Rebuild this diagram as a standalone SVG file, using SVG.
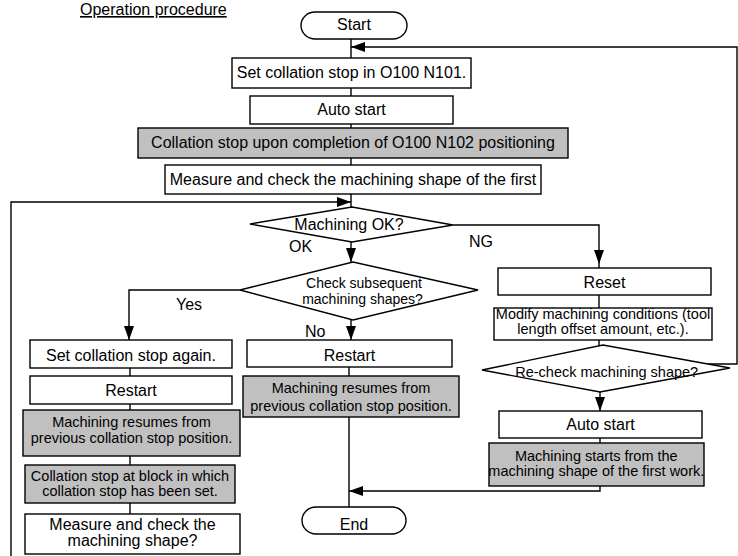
<svg xmlns="http://www.w3.org/2000/svg" width="738" height="556" viewBox="0 0 738 556">
<defs>
<marker id="ah" viewBox="0 0 14 10" refX="14" refY="5" markerWidth="14" markerHeight="10" markerUnits="userSpaceOnUse" orient="auto">
<path d="M0,0 L14,5 L0,10 z" fill="#000"/>
</marker>
</defs>
<style>
text{font-family:"Liberation Sans",Arial,sans-serif;fill:#000}
.t16{font-size:16px}
.t145{font-size:14.5px}
.t14{font-size:14px}
.c{text-anchor:middle}
.box{fill:#fff;stroke:#000;stroke-width:1.4}
.gray{fill:#c0c0c0;stroke:#000;stroke-width:1.4}
.ln{fill:none;stroke:#000;stroke-width:1.4}
.ar{fill:none;stroke:#000;stroke-width:1.4;marker-end:url(#ah)}
</style>
<rect width="738" height="556" fill="#fff"/>
<text id="title" class="t16" x="80" y="15" text-decoration="underline">Operation procedure</text>

<g id="connectors">
<line class="ln" x1="351" y1="39" x2="351" y2="58"/>
<polyline class="ar" points="708,364 737,364 737,47 351,47"/>
<line class="ln" x1="351" y1="88" x2="351" y2="96"/>
<line class="ln" x1="351" y1="124" x2="351" y2="128"/>
<line class="ln" x1="351" y1="158" x2="351" y2="165"/>
<line class="ln" x1="351" y1="194" x2="351" y2="207"/>
<polyline class="ar" points="11,556 11,202 351,202"/>
<line class="ar" x1="351" y1="242" x2="351" y2="262"/>
<polyline class="ar" points="453,225 599,225 599,264"/>
<line class="ln" x1="599" y1="264" x2="599" y2="268"/>
<polyline class="ar" points="240,290 129,290 129,340"/>
<line class="ar" x1="351" y1="320" x2="351" y2="340"/>
<line class="ln" x1="130" y1="368" x2="130" y2="376"/>
<line class="ln" x1="130" y1="404" x2="130" y2="410"/>
<line class="ln" x1="130" y1="456" x2="130" y2="465"/>
<line class="ln" x1="130" y1="503" x2="130" y2="514"/>
<line class="ln" x1="349" y1="367" x2="349" y2="376"/>
<line class="ln" x1="349" y1="417" x2="349" y2="507"/>
<line class="ln" x1="599" y1="295" x2="599" y2="308"/>
<line class="ln" x1="599" y1="340" x2="599" y2="346"/>
<line class="ar" x1="600" y1="392" x2="600" y2="411"/>
<line class="ln" x1="600" y1="438" x2="600" y2="443"/>
<polyline class="ar" points="600,486 600,491 349,491"/>
</g>

<g id="start">
<rect class="box" x="301" y="12" width="106" height="27" rx="14" ry="13.5"/>
<text class="t16 c" x="354" y="30">Start</text>
</g>
<g id="set-stop">
<rect class="box" x="232" y="58" width="239" height="30"/>
<text class="t16 c" x="351.5" y="78">Set collation stop in O100 N101.</text>
</g>
<g id="auto-start-1">
<rect class="box" x="250" y="96" width="203" height="28"/>
<text class="t16 c" x="351.5" y="115">Auto start</text>
</g>
<g id="collation-stop">
<rect class="gray" x="138" y="128" width="430" height="30"/>
<text class="t16 c" x="353" y="148">Collation stop upon completion of O100 N102 positioning</text>
</g>
<g id="measure-first">
<rect class="box" x="165" y="165" width="376" height="29"/>
<text class="t16 c" x="353" y="185">Measure and check the machining shape of the first</text>
</g>
<g id="machining-ok">
<polygon class="box" points="250,224 352,207 453,225 352,242"/>
<text class="t16 c" x="349" y="230">Machining OK?</text>
</g>
<g id="labels">
<text class="t16" x="289" y="252">OK</text>
<text class="t16" x="469" y="246.5">NG</text>
<text class="t16" x="176" y="310">Yes</text>
<text class="t16" x="305" y="336.5">No</text>
</g>
<g id="check-subsequent">
<polygon class="box" points="240,290 353,262 478,290 353,320"/>
<text class="t14 c" x="364" y="288">Check subsequent</text>
<text class="t14 c" x="362.5" y="303.5">machining shapes?</text>
</g>
<g id="set-again">
<rect class="box" x="30" y="340" width="202" height="28"/>
<text class="t16 c" x="131" y="361">Set collation stop again.</text>
</g>
<g id="restart-left">
<rect class="box" x="30" y="376" width="202" height="28"/>
<text class="t16 c" x="131" y="396">Restart</text>
</g>
<g id="resume-left">
<rect class="gray" x="23" y="410" width="217" height="46"/>
<text class="t145 c" x="131.5" y="427">Machining resumes from</text>
<text class="t145 c" x="131.5" y="443">previous collation stop position.</text>
</g>
<g id="stop-at-block">
<rect class="gray" x="25" y="465" width="210" height="38"/>
<text class="t145 c" x="130" y="481">Collation stop at block in which</text>
<text class="t145 c" x="130" y="496">collation stop has been set.</text>
</g>
<g id="measure-again">
<rect class="box" x="25" y="514" width="215" height="40"/>
<text class="t16 c" x="132.5" y="530">Measure and check the</text>
<text class="t16 c" x="132.5" y="545.5">machining shape?</text>
</g>
<g id="restart-mid">
<rect class="box" x="247" y="340" width="205" height="27"/>
<text class="t16 c" x="349.5" y="361">Restart</text>
</g>
<g id="resume-mid">
<rect class="gray" x="243" y="376" width="216" height="41"/>
<text class="t145 c" x="351" y="393">Machining resumes from</text>
<text class="t145 c" x="351" y="411">previous collation stop position.</text>
</g>
<g id="end">
<rect class="box" x="302" y="507" width="104" height="27" rx="14" ry="13.5"/>
<text class="t16 c" x="354" y="530">End</text>
</g>
<g id="reset">
<rect class="box" x="498" y="268" width="213" height="27"/>
<text class="t16 c" x="604.5" y="288">Reset</text>
</g>
<g id="modify">
<rect class="box" x="494" y="308" width="218" height="32"/>
<text class="t145 c" x="603" y="319">Modify machining conditions (tool</text>
<text class="t145 c" x="603" y="334">length offset amount, etc.).</text>
</g>
<g id="recheck">
<polygon class="box" points="482,370 603,345 730,368 600,392"/>
<text class="t145 c" x="606.7" y="377">Re-check machining shape?</text>
</g>
<g id="auto-start-2">
<rect class="box" x="499" y="411" width="203" height="27"/>
<text class="t16 c" x="600.5" y="430">Auto start</text>
</g>
<g id="starts-first">
<rect class="gray" x="489" y="443" width="215" height="43"/>
<text class="t145 c" x="596.3" y="460.5">Machining starts from the</text>
<text class="t145 c" x="596.3" y="475.5">machining shape of the first work.</text>
</g>
</svg>
